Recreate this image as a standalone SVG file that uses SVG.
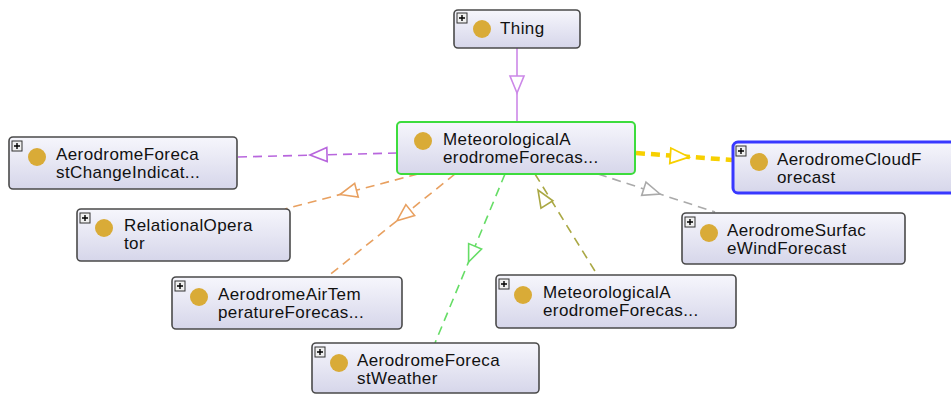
<svg xmlns="http://www.w3.org/2000/svg" width="951" height="394" viewBox="0 0 951 394">
<defs>
<linearGradient id="g" x1="0" y1="0" x2="0" y2="1">
<stop offset="0" stop-color="#f6f6fc"/>
<stop offset="1" stop-color="#d6d6ea"/>
</linearGradient>
<path id="tri" d="M0,0 L-17,-7 L-17,7 Z"/>
<g id="plus"><rect x="0" y="0" width="10" height="10" fill="#f0f0f0" stroke="#333" stroke-width="1"/><path d="M2,5 H8 M5,2 V8" stroke="#000" stroke-width="1.4"/></g>
</defs>
<style>
.box{fill:url(#g);stroke:#4a4a4a;stroke-width:1.6}
.dot{fill:#d9ab37}
.t{font-family:"Liberation Sans",Arial,sans-serif;font-size:17px;letter-spacing:0.4px;fill:#111}
.e{fill:none;stroke-width:1.6}
.d{stroke-dasharray:9,6}
.a{fill:#fff;stroke-width:1.6}
</style>
<rect width="951" height="394" fill="#fff"/>
<g id="connectors">
<line class="e" x1="517" y1="48" x2="517" y2="122" stroke="#cc88e8"/>
<use href="#tri" class="a" stroke="#cc88e8" transform="translate(517,93) rotate(90)"/>
<line class="e d" x1="397" y1="153" x2="237" y2="157" stroke="#b866dd"/>
<use href="#tri" class="a" stroke="#b866dd" transform="translate(310,155) rotate(178.5)"/>
<line class="e d" x1="636" y1="153" x2="732" y2="160" stroke="#f7d000" style="stroke-width:4.5"/>
<use href="#tri" class="a" stroke="#f7d000" transform="translate(689,157) rotate(4) scale(1.1)"/>
<line class="e d" x1="418" y1="174" x2="285" y2="209" stroke="#e8a060"/>
<use href="#tri" class="a" stroke="#e8a060" transform="translate(340,194.5) rotate(165.3)"/>
<line class="e d" x1="455" y1="174" x2="327" y2="277" stroke="#e8a060"/>
<use href="#tri" class="a" stroke="#e8a060" transform="translate(397,220.7) rotate(141.2)"/>
<line class="e d" x1="505" y1="174" x2="435" y2="343" stroke="#66dd66"/>
<use href="#tri" class="a" stroke="#66dd66" transform="translate(468.6,262) rotate(112.5)"/>
<line class="e d" x1="535" y1="174" x2="598" y2="276" stroke="#aaa844"/>
<use href="#tri" class="a" stroke="#aaa844" transform="translate(538,190) rotate(-121.7)"/>
<line class="e d" x1="598" y1="174" x2="715" y2="212" stroke="#aaaaaa"/>
<use href="#tri" class="a" stroke="#aaaaaa" transform="translate(660,194) rotate(18)"/>
</g>
<g id="thing">
<rect class="box" x="454" y="10" width="126" height="38" rx="4"/>
<use href="#plus" x="457" y="13"/>
<circle class="dot" cx="482" cy="29" r="9"/>
<text class="t" x="500" y="34">Thing</text>
</g>
<g id="central">
<rect class="box" x="397" y="122" width="238" height="52" rx="4" style="stroke:#3ddc3d;stroke-width:2"/>
<circle class="dot" cx="423" cy="141" r="9"/>
<text class="t" x="443" y="145">MeteorologicalA</text>
<text class="t" x="443" y="163">erodromeForecas...</text>
</g>
<g id="changeIndicator">
<rect class="box" x="9" y="137" width="228" height="52" rx="4"/>
<use href="#plus" x="12" y="141"/>
<circle class="dot" cx="37" cy="157" r="9"/>
<text class="t" x="56" y="160">AerodromeForeca</text>
<text class="t" x="56" y="178">stChangeIndicat...</text>
</g>
<g id="cloud">
<rect class="box" x="733" y="142" width="230" height="51" rx="5" style="stroke:#3838ff;stroke-width:3"/>
<use href="#plus" x="736" y="146"/>
<circle class="dot" cx="759" cy="162" r="9"/>
<text class="t" x="777" y="165">AerodromeCloudF</text>
<text class="t" x="777" y="183">orecast</text>
</g>
<g id="relational">
<rect class="box" x="77" y="209" width="213" height="52" rx="4"/>
<use href="#plus" x="80" y="213"/>
<circle class="dot" cx="104" cy="228" r="9"/>
<text class="t" x="124" y="231">RelationalOpera</text>
<text class="t" x="124" y="249">tor</text>
</g>
<g id="surfaceWind">
<rect class="box" x="682" y="213" width="223" height="51" rx="4"/>
<use href="#plus" x="685" y="217"/>
<circle class="dot" cx="709" cy="233" r="9"/>
<text class="t" x="727" y="236">AerodromeSurfac</text>
<text class="t" x="727" y="254">eWindForecast</text>
</g>
<g id="airTemp">
<rect class="box" x="172" y="277" width="230" height="52" rx="4"/>
<use href="#plus" x="175" y="281"/>
<circle class="dot" cx="199" cy="297" r="9"/>
<text class="t" x="218" y="300">AerodromeAirTem</text>
<text class="t" x="218" y="318">peratureForecas...</text>
</g>
<g id="meteoBottom">
<rect class="box" x="496" y="275" width="240" height="53" rx="4"/>
<use href="#plus" x="499" y="279"/>
<circle class="dot" cx="523" cy="295" r="9"/>
<text class="t" x="543" y="298">MeteorologicalA</text>
<text class="t" x="543" y="316">erodromeForecas...</text>
</g>
<g id="forecastWeather">
<rect class="box" x="312" y="343" width="227" height="50" rx="4"/>
<use href="#plus" x="315" y="347"/>
<circle class="dot" cx="339" cy="363" r="9"/>
<text class="t" x="357" y="366">AerodromeForeca</text>
<text class="t" x="357" y="384">stWeather</text>
</g>
</svg>
